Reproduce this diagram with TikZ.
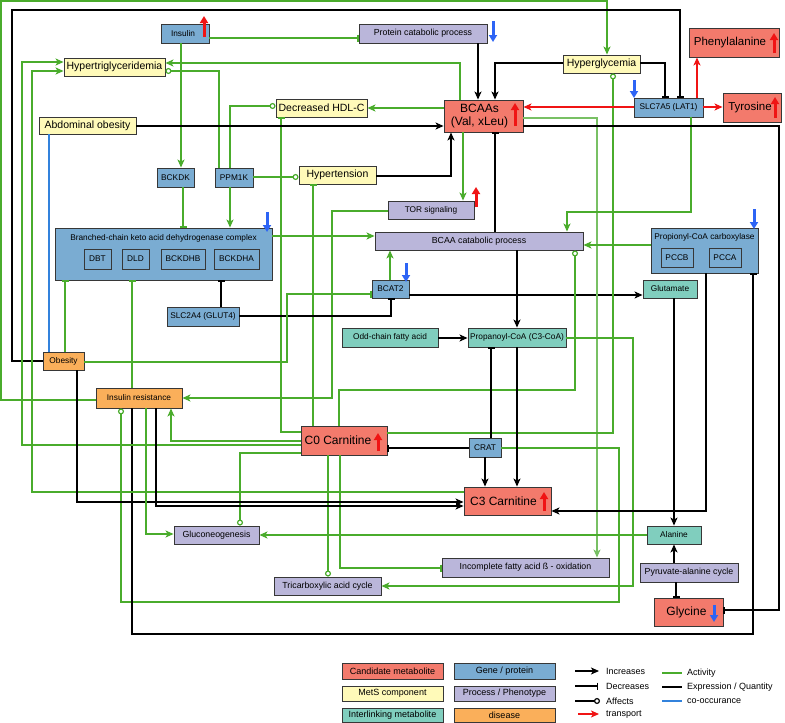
\documentclass[tikz,border=0pt]{standalone}
\usepackage{fontspec}
\setmainfont{Liberation Sans}
\usetikzlibrary{arrows.meta,fit}
\definecolor{cCand}{RGB}{243,122,108}
\definecolor{cMets}{RGB}{255,250,185}
\definecolor{cInter}{RGB}{128,206,190}
\definecolor{cGene}{RGB}{122,172,210}
\definecolor{cProc}{RGB}{186,182,218}
\definecolor{cDis}{RGB}{250,175,90}
\definecolor{cGreen}{RGB}{74,172,44}
\definecolor{cLGreen}{RGB}{120,192,100}
\definecolor{cBlueL}{RGB}{50,130,220}
\definecolor{cBlueA}{RGB}{45,100,245}
\definecolor{cRed}{RGB}{240,20,20}
\definecolor{cBorder}{RGB}{55,55,55}
\tikzset{
 box/.style={draw=cBorder, line width=0.9pt, inner sep=0pt},
 cand/.style={box, fill=cCand},
 mets/.style={box, fill=cMets},
 inter/.style={box, fill=cInter},
 gene/.style={box, fill=cGene},
 proc/.style={box, fill=cProc},
 dis/.style={box, fill=cDis},
 txt/.style={inner sep=0pt, align=center, text=black},
 fsm/.style={txt, font=\fontsize{8.3}{9.5}\selectfont},
 fpr/.style={txt, font=\fontsize{8.8}{10}\selectfont},
 fmt/.style={txt, font=\fontsize{10.5}{12}\selectfont},
 fcd/.style={txt, font=\fontsize{12}{13}\selectfont},
 fcd2/.style={txt, font=\fontsize{11.5}{13}\selectfont},
 flg/.style={txt, font=\fontsize{9}{10}\selectfont},
 conn/.style={line width=1.2pt},
 actg/.style={conn, draw=cGreen},
 actlg/.style={conn, draw=cLGreen},
 expk/.style={conn, draw=black},
 coob/.style={conn, draw=cBlueL},
 trr/.style={conn, draw=cRed},
 toinc/.style={-{Stealth[length=8pt,width=7pt,inset=2pt]}},
 todec/.style={-{Bar[width=7pt,line width=1.1pt]}},
 toaff/.style={-{Circle[length=6pt,width=6pt,fill=white]}},
 ind/.style={line width=3pt, -{Triangle[length=7pt,width=8pt]}},
}
\newcommand\nbox[8]{%
 \node[#1, fit={(#3,#4) (#5,#6)}] (#2) {};
 \node[#7] (#2t) at (#2.center) {#8};}
\newcommand\upred[3]{\draw[ind, cRed] (#1,#3) -- (#1,#2);}
\newcommand\downblue[3]{\draw[ind, cBlueA] (#1,#2) -- (#1,#3);}
\begin{document}
\begin{tikzpicture}[x=1pt,y=-1pt]
\useasboundingbox (0,0) rectangle (785,723);
\fill[white] (0,0) rectangle (785,723);
% ---------------- nodes
\nbox{gene}{insulin}{161}{24}{209}{43}{fsm, xshift=-2pt}{Insulin}
\nbox{proc}{protcat}{359}{24}{487}{43}{fpr}{Protein catabolic process}
\nbox{mets}{hypertg}{64}{58}{165}{76}{fmt}{Hypertriglyceridemia}
\nbox{mets}{hdl}{276}{99}{367}{117}{fmt}{Decreased HDL-C}
\nbox{mets}{abdob}{39}{117}{136}{134}{fmt}{Abdominal obesity}
\nbox{cand}{bcaa}{444}{100}{523}{132}{fcd, xshift=-4pt}{BCAAs\\(Val, xLeu)}
\nbox{mets}{hyperglyc}{563}{55}{640}{73}{fmt}{Hyperglycemia}
\nbox{gene}{slc7a5}{634}{98}{703}{117}{fsm}{SLC7A5 (LAT1)}
\nbox{cand}{phe}{689}{28}{779}{57}{fcd2, xshift=-4pt}{Phenylalanine}
\nbox{cand}{tyr}{723}{93}{781}{122}{fcd2, xshift=-2pt}{Tyrosine}
\nbox{gene}{bckdk}{157}{168}{194}{187}{fsm}{BCKDK}
\nbox{gene}{ppm1k}{215}{168}{253}{187}{fsm}{PPM1K}
\nbox{mets}{hypert}{299}{166}{376}{184}{fmt}{Hypertension}
\nbox{proc}{tor}{388}{201}{474}{219}{fsm}{TOR signaling}
\node[gene, fit={(55,228) (272,280)}] (bckdc) {};
\node[fsm] (bckdct) at (163.5,238) {Branched-chain keto acid dehydrogenase complex};
\nbox{gene}{dbt}{84}{249}{111}{269}{fsm}{DBT}
\nbox{gene}{dld}{122}{249}{149}{269}{fsm}{DLD}
\nbox{gene}{bckdhb}{161}{249}{205}{269}{fsm}{BCKDHB}
\nbox{gene}{bckdha}{214}{249}{259}{269}{fsm}{BCKDHA}
\nbox{proc}{bcaacat}{375}{232}{583}{250}{fpr}{BCAA catabolic process}
\node[gene, fit={(651,228) (758,273)}] (pcc) {};
\node[fsm] (pcct) at (704.5,237.5) {Propionyl-CoA carboxylase};
\nbox{gene}{pccb}{661}{248}{693}{267}{fsm}{PCCB}
\nbox{gene}{pcca}{709}{248}{741}{267}{fsm}{PCCA}
\nbox{gene}{bcat2}{372}{280}{409}{298}{fsm}{BCAT2}
\nbox{gene}{slc2a4}{167}{307}{239}{326}{fsm}{SLC2A4 (GLUT4)}
\nbox{inter}{glut}{643}{280}{697}{298}{fsm}{Glutamate}
\nbox{inter}{oddfa}{342}{328}{438}{347}{fsm}{Odd-chain fatty acid}
\nbox{inter}{propcoa}{468}{328}{566}{347}{fsm}{Propanoyl-CoA (C3-CoA)}
\nbox{dis}{obesity}{43}{352}{84}{370}{fsm}{Obesity}
\nbox{dis}{insres}{96}{388}{182}{408}{fsm}{Insulin resistance}
\nbox{cand}{c0}{301}{426}{387}{455}{fcd, xshift=-6pt}{C0 Carnitine}
\nbox{gene}{crat}{469}{438}{501}{457}{fsm}{CRAT}
\nbox{cand}{c3}{464}{487}{551}{515}{fcd, xshift=-4pt}{C3 Carnitine}
\nbox{inter}{alanine}{647}{526}{701}{544}{fsm}{Alanine}
\nbox{proc}{glucon}{174}{526}{259}{544}{fpr}{Gluconeogenesis}
\nbox{proc}{incfa}{442}{558}{609}{577}{fpr}{Incomplete fatty acid ß - oxidation}
\nbox{proc}{pyrala}{640}{563}{738}{582}{fpr}{Pyruvate-alanine cycle}
\nbox{proc}{tca}{274}{577}{381}{595}{fpr}{Tricarboxylic acid cycle}
\nbox{cand}{glycine}{654}{598}{723}{626}{fcd, xshift=-2pt}{Glycine}
% ---------------- indicator arrows
\upred{204}{16}{37}
\downblue{493}{21}{42}
\upred{515}{103}{126}
\upred{774}{33}{53}
\upred{775}{97}{118}
\upred{476}{187}{207}
\downblue{267}{212}{232}
\downblue{754}{209}{229}
\downblue{406}{263}{282}
\downblue{634}{80}{98}
\upred{378}{433}{451}
\upred{544}{492}{511}
\downblue{714}{605}{622}
% ---------------- connectors
\draw[actg,toinc] (insres.west |- 0,400) -- (1,400) -- (1,1) -- (607,1) -- (hyperglyc.north -| 607,0);
\draw[expk,todec] (obesity.west |- 0,361) -- (12,361) -- (12,10) -- (680,10) -- (slc7a5.north -| 680,0);
\draw[expk,todec] (hyperglyc.east |- 0,63) -- (665,63) -- (slc7a5.north -| 665,0);
\draw[actg,todec] (insulin.east |- 0,38) -- (protcat.west |- 0,38);
\draw[actg,toinc] (insulin.south -| 181,0) -- (bckdk.north -| 181,0);
\draw[actg,toinc] (bcaa.north -| 460,0) -- (460,63) -- (hypertg.east |- 0,63);
\draw[actg,toaff] (ppm1k.north -| 219,0) -- (219,71) -- (hypertg.east |- 0,71);
\draw[actg,toaff] (ppm1k.north -| 230,0) -- (230,106) -- (hdl.west |- 0,106);
\draw[actg,toinc] (bcaa.west |- 0,108) -- (hdl.east |- 0,108);
\draw[actg,todec] (c0.west |- 0,432) -- (281,432) -- (hdl.south -| 281,0);
\draw[actg,toaff] (ppm1k.east |- 0,177) -- (hypert.west |- 0,177);
\draw[expk,toinc] (hypert.east |- 0,176) -- (451,176) -- (bcaa.south -| 451,0);
\draw[actg,todec] (c0.north -| 313,0) -- (hypert.south -| 313,0);
\draw[expk,toinc] (abdob.east |- 0,126) -- (bcaa.west |- 0,126);
\draw[coob] (abdob.south -| 49,0) -- (obesity.north -| 49,0);
\draw[actg,todec] (bckdk.south -| 183,0) -- (bckdc.north -| 183,0);
\draw[actg,toinc] (ppm1k.south -| 230,0) -- (bckdc.north -| 230,0);
\draw[actg,toinc] (bckdc.east |- 0,236) -- (bcaacat.west |- 0,236);
\draw[actg,toinc] (bcaa.south -| 463,0) -- (tor.north -| 463,0);
\draw[actg,toinc] (tor.west |- 0,211) -- (332,211) -- (332,398) -- (insres.east |- 0,398);
\draw[actg,toinc] (bcat2.north -| 390,0) -- (bcaacat.south -| 390,0);
\draw[expk,toinc] (bcat2.east |- 0,295) -- (glut.west |- 0,295);
\draw[expk,todec] (slc2a4.east |- 0,316) -- (391,316) -- (bcat2.south -| 391,0);
\draw[expk,todec] (slc2a4.north -| 221,0) -- (bckdc.south -| 221,0);
\draw[expk,toinc] (oddfa.east |- 0,338) -- (propcoa.west |- 0,338);
\draw[expk,toinc] (bcaacat.south -| 517,0) -- (propcoa.north -| 517,0);
\draw[expk,todec] (bcaacat.north -| 495,0) -- (bcaa.south -| 495,0);
\draw[expk,toinc] (protcat.south -| 478,0) -- (bcaa.north -| 478,0);
\draw[expk,toinc] (hyperglyc.west |- 0,63) -- (495,63) -- (bcaa.north -| 495,0);
\draw[actlg,toinc] (bcaa.east |- 0,118) -- (597,118) -- (incfa.north -| 597,0);
\draw[actg,toaff] (c0.east |- 0,433) -- (613,433) -- (hyperglyc.south -| 613,0);
\draw[actg,toaff] (c0.north -| 339,0) -- (339,390) -- (575,390) -- (bcaacat.south -| 575,0);
\draw[actg,toinc] (propcoa.east |- 0,338) -- (633,338) -- (633,586) -- (tca.east |- 0,586);
\draw[actg,toaff] (crat.east |- 0,448) -- (619,448) -- (619,602) -- (121,602) -- (insres.south -| 121,0);
\draw[expk,todec] (insres.south -| 132,0) -- (132,634) -- (753,634) -- (pcc.south -| 753,0);
\draw[expk,toinc] (pcc.south -| 706,0) -- (706,511) -- (c3.east |- 0,511);
\draw[expk,toinc] (glut.south -| 674,0) -- (alanine.north -| 674,0);
\draw[actg,toinc] (alanine.west |- 0,535) -- (glucon.east |- 0,535);
\draw[expk,toinc] (pyrala.north -| 674,0) -- (alanine.south -| 674,0);
\draw[expk,todec] (pyrala.south -| 676,0) -- (glycine.north -| 676,0);
\draw[actg,todec] (c0.south -| 340,0) -- (340,568) -- (incfa.west |- 0,568);
\draw[actg,toaff] (c0.south -| 328,0) -- (tca.north -| 328,0);
\draw[actg,toinc] (c0.west |- 0,441) -- (171,441) -- (insres.south -| 171,0);
\draw[actg,toinc] (c0.west |- 0,445) -- (22,445) -- (22,62) -- (hypertg.west |- 0,62);
\draw[actg,toaff] (c0.west |- 0,453) -- (240,453) -- (glucon.north -| 240,0);
\draw[expk,todec] (crat.west |- 0,448) -- (c0.east |- 0,448);
\draw[actg,toinc] (c3.west |- 0,492) -- (32,492) -- (32,71) -- (hypertg.west |- 0,71);
\draw[expk,toinc] (obesity.south -| 77,0) -- (77,502) -- (c3.west |- 0,502);
\draw[expk,toinc] (insres.south -| 156,0) -- (156,506) -- (c3.west |- 0,506);
\draw[actg,toinc] (insres.south -| 146,0) -- (146,534) -- (glucon.west |- 0,534);
\draw[expk,toinc] (crat.south -| 485,0) -- (c3.north -| 485,0);
\draw[expk,toinc] (propcoa.south -| 517,0) -- (c3.north -| 517,0);
\draw[expk,todec] (crat.north -| 491,0) -- (propcoa.south -| 491,0);
\draw[actg,todec] (insres.north -| 132,0) -- (bckdc.south -| 132,0);
\draw[actg,todec] (obesity.north -| 65,0) -- (bckdc.south -| 65,0);
\draw[actg,todec] (obesity.east |- 0,362) -- (287,362) -- (287,294) -- (bcat2.west |- 0,294);
\draw[trr,toinc] (slc7a5.west |- 0,107) -- (bcaa.east |- 0,107);
\draw[trr,toinc] (slc7a5.east |- 0,107) -- (tyr.west |- 0,107);
\draw[trr,toinc] (slc7a5.north -| 697,0) -- (phe.south -| 697,0);
\draw[actg,toinc] (slc7a5.south -| 691,0) -- (691,212) -- (567,212) -- (bcaacat.north -| 567,0);
\draw[actg,toinc] (pcc.west |- 0,245) -- (bcaacat.east |- 0,245);
\draw[expk,todec] (bcaa.east |- 0,126) -- (779,126) -- (779,610) -- (glycine.east |- 0,610);
% ---------------- legend
\nbox{cand}{lgcand}{342}{663}{443}{679}{flg}{Candidate metabolite}
\nbox{mets}{lgmets}{342}{686}{443}{701}{flg}{MetS component}
\nbox{inter}{lginter}{342}{708}{443}{722}{flg}{Interlinking metabolite}
\nbox{gene}{lggene}{454}{663}{555}{679}{flg}{Gene / protein}
\nbox{proc}{lgproc}{454}{686}{555}{701}{flg}{Process / Phenotype}
\nbox{dis}{lgdis}{454}{708}{555}{722}{flg}{disease}
\coordinate (la1) at (575,671); \coordinate (lb1) at (599,671);
\coordinate (la2) at (575,686); \coordinate (lb2) at (598,686);
\coordinate (la3) at (575,701); \coordinate (lb3) at (600,701);
\coordinate (la4) at (578,714); \coordinate (lb4) at (599,714);
\coordinate (la5) at (662,673); \coordinate (lb5) at (682,673);
\coordinate (la6) at (662,687); \coordinate (lb6) at (682,687);
\coordinate (la7) at (662,701); \coordinate (lb7) at (682,701);
\draw[expk,toinc] (la1) -- (lb1);
\draw[expk,todec] (la2) -- (lb2);
\draw[expk,toaff] (la3) -- (lb3);
\draw[trr,toinc] (la4) -- (lb4);
\draw[actg] (la5) -- (lb5);
\draw[expk] (la6) -- (lb6);
\draw[coob] (la7) -- (lb7);
\node[flg, anchor=west] (lt1) at (606,671) {Increases};
\node[flg, anchor=west] (lt2) at (606,686) {Decreases};
\node[flg, anchor=west] (lt3) at (606,701) {Affects};
\node[flg, anchor=west] (lt4) at (606,714.5) {transport};
\node[flg, anchor=west] (lt5) at (687,673) {Activity};
\node[flg, anchor=west] (lt6) at (687,687) {Expression / Quantity};
\node[flg, anchor=west] (lt7) at (687,701) {co-occurance};
\end{tikzpicture}
\end{document}
